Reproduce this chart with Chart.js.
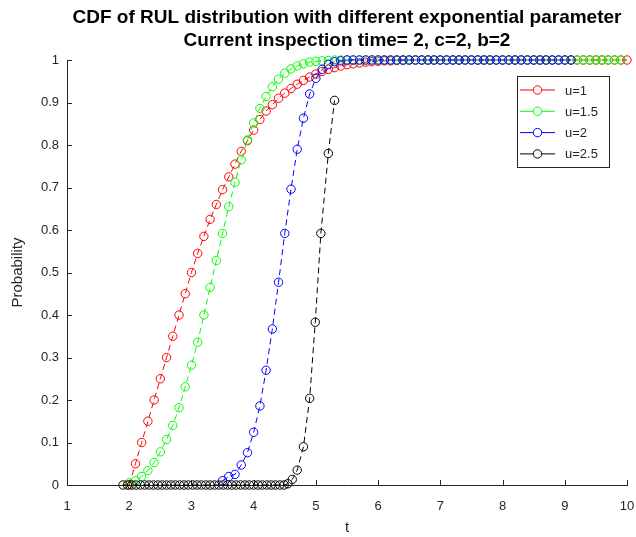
<!DOCTYPE html>
<html>
<head>
<meta charset="utf-8">
<title>CDF of RUL distribution</title>
<script src="https://cdn.jsdelivr.net/npm/chart.js@4.4.0/dist/chart.umd.min.js"></script>
<style>
    html, body { margin: 0; padding: 0; background: #ffffff; }
    #wrap { width: 636px; height: 537px; }
</style>
</head>
<body>
<div id="wrap"><canvas id="cdfChart" width="636" height="537"></canvas></div>
<script>
// Chart text
const chartTitle = ['CDF of RUL distribution with different exponential parameter',
                    'Current inspection time= 2, c=2, b=2'];
const xTitle = 't';
const yTitle = 'Probability';
const xTickLabels = ['1', '2', '3', '4', '5', '6', '7', '8', '9', '10'];
const yTickLabels = ['0', '0.1', '0.2', '0.3', '0.4', '0.5', '0.6', '0.7', '0.8', '0.9', '1'];
const seriesLabels = ['u=1', 'u=1.5', 'u=2', 'u=2.5'];

// u = 1 (red)
const tRed = [2.0, 2.1, 2.2, 2.3, 2.4, 2.5, 2.6, 2.7, 2.8, 2.9,
              3.0, 3.1, 3.2, 3.3, 3.4, 3.5, 3.6, 3.7, 3.8, 3.9,
              4.0, 4.1, 4.2, 4.3, 4.4, 4.5, 4.6, 4.7, 4.8, 4.9,
              5.0, 5.1, 5.2, 5.3, 5.4, 5.5, 5.6, 5.7, 5.8, 5.9,
              6.0, 6.1, 6.2, 6.3, 6.4, 6.5, 6.6, 6.7, 6.8, 6.9,
              7.0, 7.1, 7.2, 7.3, 7.4, 7.5, 7.6, 7.7, 7.8, 7.9,
              8.0, 8.1, 8.2, 8.3, 8.4, 8.5, 8.6, 8.7, 8.8, 8.9,
              9.0, 9.1, 9.2, 9.3, 9.4, 9.5, 9.6, 9.7, 9.8, 9.9,
              10.0];
const pRed = [0, 0.05, 0.10, 0.15, 0.20, 0.25, 0.30, 0.35, 0.40, 0.45,
              0.50, 0.545, 0.585, 0.625, 0.66, 0.695, 0.725, 0.755, 0.785, 0.81,
              0.835, 0.86, 0.88, 0.895, 0.91, 0.922, 0.933, 0.943, 0.952, 0.96,
              0.967, 0.973, 0.978, 0.982, 0.986, 0.989, 0.991, 0.993, 0.995, 0.996,
              0.997, 0.998, 0.998, 0.999, 0.999, 1, 1, 1, 1, 1,
              1, 1, 1, 1, 1, 1, 1, 1, 1, 1,
              1, 1, 1, 1, 1, 1, 1, 1, 1, 1,
              1, 1, 1, 1, 1, 1, 1, 1, 1, 1,
              1];

// u = 1.5 (green)
const tGreen = [2.0, 2.1, 2.2, 2.3, 2.4, 2.5, 2.6, 2.7, 2.8, 2.9,
                3.0, 3.1, 3.2, 3.3, 3.4, 3.5, 3.6, 3.7, 3.8, 3.9,
                4.0, 4.1, 4.2, 4.3, 4.4, 4.5, 4.6, 4.7, 4.8, 4.9,
                5.0, 5.1, 5.2, 5.3, 5.4, 5.5, 5.6, 5.7, 5.8, 5.9,
                6.0, 6.1, 6.2, 6.3, 6.4, 6.5, 6.6, 6.7, 6.8, 6.9,
                7.0, 7.1, 7.2, 7.3, 7.4, 7.5, 7.6, 7.7, 7.8, 7.9,
                8.0, 8.1, 8.2, 8.3, 8.4, 8.5, 8.6, 8.7, 8.8, 8.9,
                9.0, 9.1, 9.2, 9.3, 9.4, 9.5, 9.6, 9.7, 9.8, 9.9];
const pGreen = [0.005, 0.01, 0.02, 0.034, 0.053, 0.078, 0.107, 0.14, 0.182, 0.231,
                0.282, 0.336, 0.40, 0.465, 0.528, 0.592, 0.655, 0.712, 0.765, 0.812,
                0.852, 0.886, 0.914, 0.937, 0.955, 0.969, 0.979, 0.986, 0.991, 0.995,
                0.997, 0.998, 0.999, 1, 1, 1, 1, 1, 1, 1,
                1, 1, 1, 1, 1, 1, 1, 1, 1, 1,
                1, 1, 1, 1, 1, 1, 1, 1, 1, 1,
                1, 1, 1, 1, 1, 1, 1, 1, 1, 1,
                1, 1, 1, 1, 1, 1, 1, 1, 1, 1];

// u = 2 (blue)
const tBlue = [3.5, 3.6, 3.7, 3.8, 3.9,
               4.0, 4.1, 4.2, 4.3, 4.4, 4.5, 4.6, 4.7, 4.8, 4.9,
               5.0, 5.1, 5.2, 5.3, 5.4, 5.5, 5.6, 5.7, 5.8, 5.9,
               6.0, 6.1, 6.2, 6.3, 6.4, 6.5, 6.6, 6.7, 6.8, 6.9,
               7.0, 7.1, 7.2, 7.3, 7.4, 7.5, 7.6, 7.7, 7.8, 7.9,
               8.0, 8.1, 8.2, 8.3, 8.4, 8.5, 8.6, 8.7, 8.8, 8.9,
               9.0, 9.1];
const pBlue = [0.01, 0.02, 0.025, 0.047, 0.076,
               0.124, 0.186, 0.27, 0.367, 0.477, 0.592, 0.696, 0.79, 0.863, 0.92,
               0.957, 0.978, 0.99, 0.996, 0.998, 1, 1, 1, 1, 1,
               1, 1, 1, 1, 1, 1, 1, 1, 1, 1,
               1, 1, 1, 1, 1, 1, 1, 1, 1, 1,
               1, 1, 1, 1, 1, 1, 1, 1, 1, 1,
               1, 1];

// u = 2.5 (black)
const tBlack = [1.90, 1.97, 2.04, 2.11, 2.18, 2.25, 2.32, 2.39, 2.46, 2.53,
                2.60, 2.67, 2.74, 2.81, 2.88, 2.95, 3.02, 3.09, 3.16, 3.23,
                3.30, 3.37, 3.44, 3.51, 3.58, 3.65, 3.72, 3.79, 3.86, 3.93,
                4.00, 4.07, 4.14, 4.21, 4.28, 4.35, 4.42, 4.49,
                4.55, 4.62, 4.70, 4.80, 4.90, 4.99, 5.08, 5.20, 5.30];
const pBlack = [0, 0, 0, 0, 0, 0, 0, 0, 0, 0,
                0, 0, 0, 0, 0, 0, 0, 0, 0, 0,
                0, 0, 0, 0, 0, 0, 0, 0, 0, 0,
                0, 0, 0, 0, 0, 0, 0, 0,
                0.003, 0.013, 0.035, 0.09, 0.204, 0.383, 0.592, 0.78, 0.905];

const seriesColors = ['#ff0000', '#00ff00', '#0000ff', '#000000'];
const axisColor = '#262626';
const fontFamily = "'Liberation Sans', Arial, Helvetica, sans-serif";

// Build datasets from the arrays above
function toPoints(ts, ps) {
    return ts.map((t, i) => ({ x: t, y: ps[i] }));
}

const allSeries = [[tRed, pRed], [tGreen, pGreen], [tBlue, pBlue], [tBlack, pBlack]];

const datasets = allSeries.map((s, i) => ({
    label: seriesLabels[i],
    data: toPoints(s[0], s[1]),
    borderColor: seriesColors[i],
    pointBorderColor: seriesColors[i],
    pointBackgroundColor: 'rgba(0,0,0,0)',
    borderWidth: 1,
    borderDash: [6, 4],
    pointStyle: 'circle',
    pointRadius: 4.2,
    pointBorderWidth: 1,
    pointHoverRadius: 4.2,
    tension: 0,
    fill: false,
    clip: false,
    // later series sit on top, like the original plot
    order: allSeries.length - i
}));

// Inward tick marks on the left and bottom axes
const inwardTicks = {
    id: 'inwardTicks',
    beforeDatasetsDraw(chart) {
        const ctx = chart.ctx;
        const xs = chart.scales.x;
        const ys = chart.scales.y;
        const len = 5;
        ctx.save();
        ctx.strokeStyle = axisColor;
        ctx.lineWidth = 1;
        ctx.beginPath();
        xs.ticks.forEach(t => {
            const px = Math.round(xs.getPixelForValue(t.value)) + 0.5;
            ctx.moveTo(px, ys.bottom);
            ctx.lineTo(px, ys.bottom - len);
        });
        ys.ticks.forEach(t => {
            const py = Math.round(ys.getPixelForValue(t.value)) + 0.5;
            ctx.moveTo(xs.left, py);
            ctx.lineTo(xs.left + len, py);
        });
        ctx.stroke();
        ctx.restore();
    }
};

// Boxed legend inside the axes, top right
const boxLegend = {
    id: 'boxLegend',
    afterDraw(chart) {
        const ctx = chart.ctx;
        const area = chart.chartArea;
        const x0 = area.right - 110;
        const y0 = area.top + 16;
        const w = 92;
        const h = 91;
        const rowH = 21.3;
        ctx.save();
        ctx.fillStyle = '#ffffff';
        ctx.fillRect(x0, y0, w, h);
        ctx.strokeStyle = axisColor;
        ctx.lineWidth = 1;
        ctx.strokeRect(x0 + 0.5, y0 + 0.5, w, h);
        ctx.font = '13px ' + fontFamily;
        ctx.textBaseline = 'middle';
        ctx.textAlign = 'left';
        chart.data.datasets.forEach((ds, i) => {
            const cy = y0 + 14 + i * rowH;
            ctx.strokeStyle = ds.borderColor;
            ctx.beginPath();
            ctx.moveTo(x0 + 3, cy);
            ctx.lineTo(x0 + 38, cy);
            ctx.stroke();
            ctx.beginPath();
            ctx.fillStyle = '#ffffff';
            ctx.arc(x0 + 20.5, cy, 4.2, 0, Math.PI * 2);
            ctx.fill();
            ctx.stroke();
            ctx.fillStyle = axisColor;
            ctx.fillText(ds.label, x0 + 48, cy + 1);
        });
        ctx.restore();
    }
};

const ctx = document.getElementById('cdfChart').getContext('2d');
const cdfChart = new Chart(ctx, {
    type: 'line',
    data: { datasets: datasets },
    options: {
        responsive: false,
        animation: false,
        events: [],
        layout: { padding: { left: 0, right: 0, top: 0, bottom: 0 } },
        scales: {
            x: {
                type: 'linear',
                min: 1,
                max: 10,
                grid: { display: false, drawTicks: false },
                border: { display: true, color: axisColor, width: 1 },
                ticks: {
                    stepSize: 1,
                    maxRotation: 0,
                    padding: 14,
                    color: axisColor,
                    font: { family: fontFamily, size: 13 },
                    callback: (value, index) => xTickLabels[index]
                },
                title: {
                    display: true,
                    text: xTitle,
                    color: axisColor,
                    font: { family: fontFamily, size: 15 },
                    padding: { top: 0, bottom: 0 }
                },
                afterFit(scale) {
                    scale.height = 52;
                    // room on the right only for the plot margin, not the label padding
                    scale.paddingLeft = 0;
                    scale.paddingRight = 9;
                }
            },
            y: {
                type: 'linear',
                min: 0,
                max: 1,
                grid: { display: false, drawTicks: false },
                border: { display: true, color: axisColor, width: 1 },
                ticks: {
                    stepSize: 0.1,
                    padding: 8,
                    color: axisColor,
                    font: { family: fontFamily, size: 13 },
                    callback: (value, index) => yTickLabels[index]
                },
                title: {
                    display: true,
                    text: yTitle,
                    color: axisColor,
                    font: { family: fontFamily, size: 15 },
                    padding: { top: 9, bottom: 0 }
                },
                afterFit(scale) { scale.width = 67; }
            }
        },
        plugins: {
            legend: { display: false },
            tooltip: { enabled: false },
            title: {
                display: true,
                fullSize: false,
                text: chartTitle,
                color: '#000000',
                font: { family: fontFamily, size: 19, weight: 'bold', lineHeight: 23 / 19 },
                padding: { top: 6, bottom: 8 }
            }
        }
    },
    plugins: [inwardTicks, boxLegend]
});
</script>
</body>
</html>
